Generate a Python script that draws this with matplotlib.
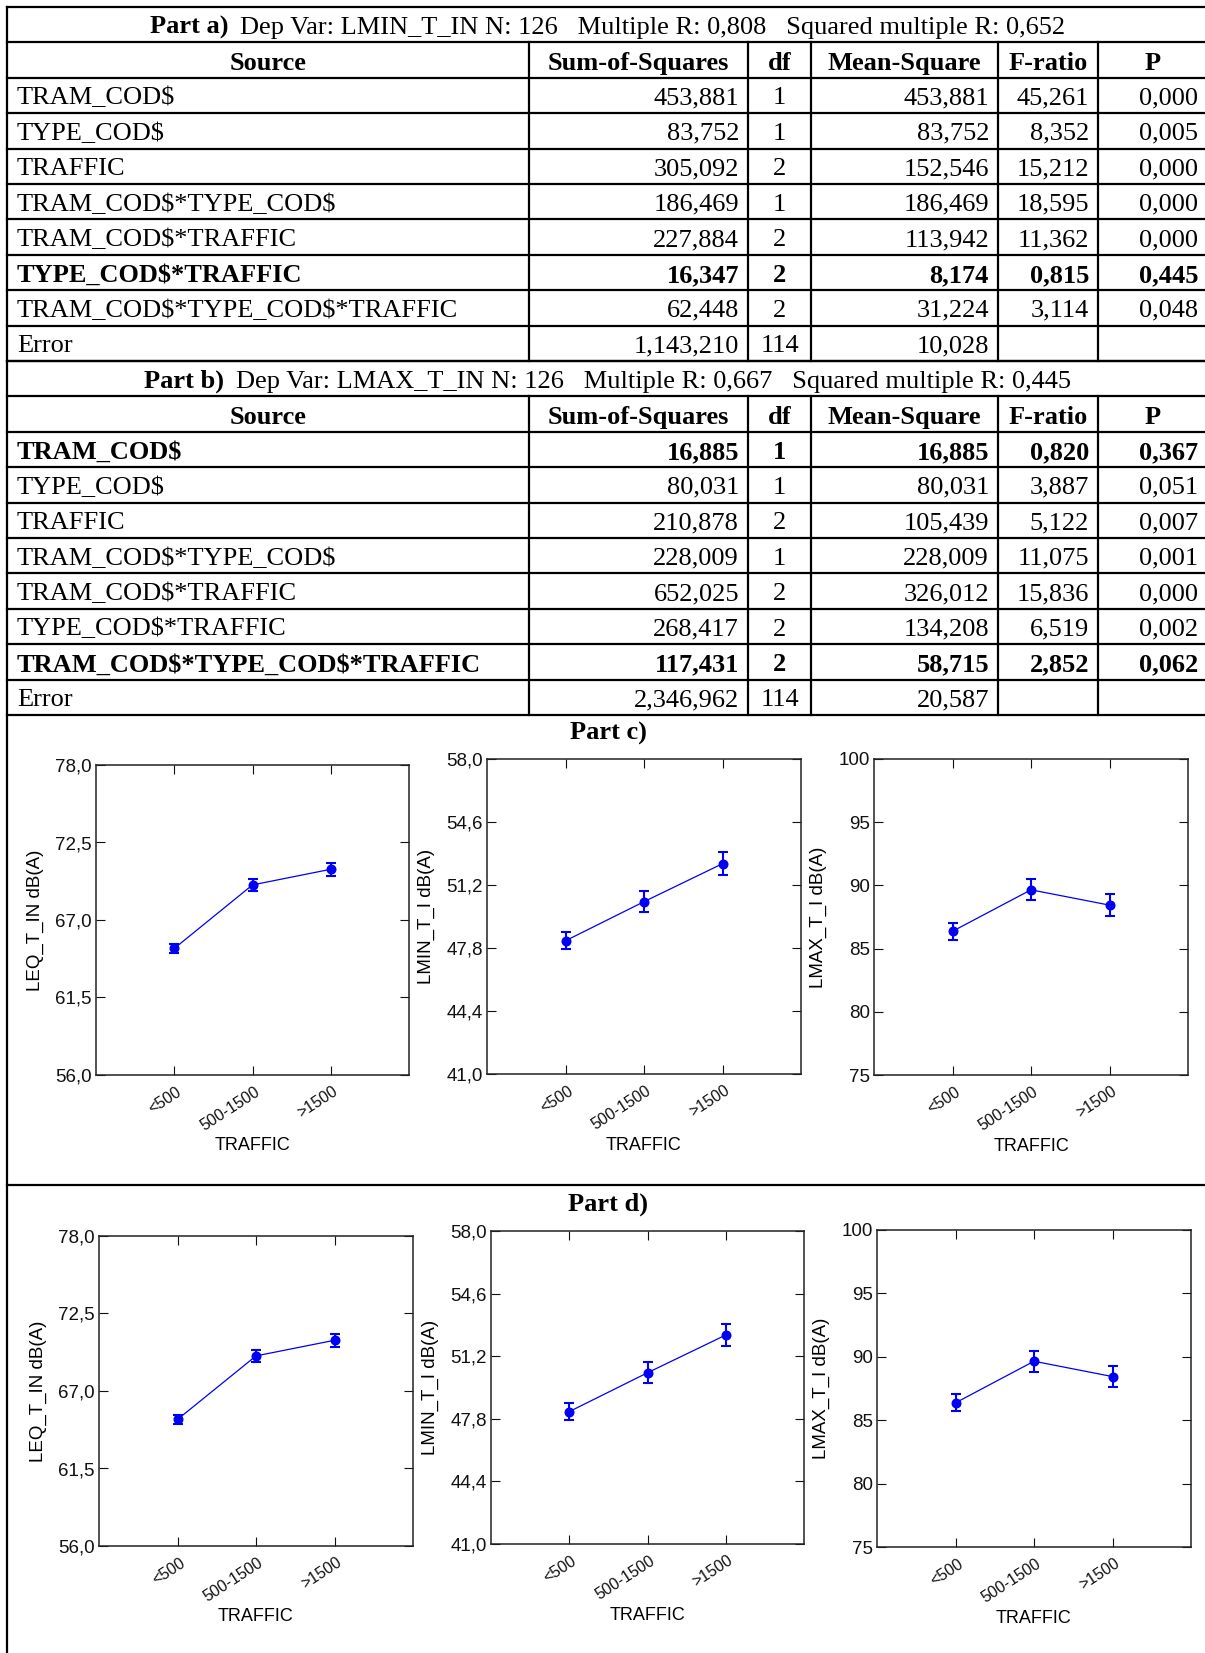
import numpy as np
import matplotlib.pyplot as plt
from matplotlib.transforms import ScaledTranslation

plt.rcParams['font.family'] = 'Liberation Sans'
plt.rcParams['text.parse_math'] = False
SERIF = 'Liberation Serif'

# ---- ANOVA tables ----
sources = ['TRAM_COD$', 'TYPE_COD$', 'TRAFFIC', 'TRAM_COD$*TYPE_COD$',
           'TRAM_COD$*TRAFFIC', 'TYPE_COD$*TRAFFIC',
           'TRAM_COD$*TYPE_COD$*TRAFFIC', 'Error']
headers = ['Source', 'Sum-of-Squares', 'df', 'Mean-Square', 'F-ratio', 'P']

a_title = ('Part a)', 'Dep Var: LMIN_T_IN N: 126   Multiple R: 0,808   Squared multiple R: 0,652')
a_ss = ['453,881', '83,752', '305,092', '186,469', '227,884', '16,347', '62,448', '1,143,210']
a_df = ['1', '1', '2', '1', '2', '2', '2', '114']
a_ms = ['453,881', '83,752', '152,546', '186,469', '113,942', '8,174', '31,224', '10,028']
a_f = ['45,261', '8,352', '15,212', '18,595', '11,362', '0,815', '3,114', '']
a_p = ['0,000', '0,005', '0,000', '0,000', '0,000', '0,445', '0,048', '']
a_bold = [False, False, False, False, False, True, False, False]

b_title = ('Part b)', 'Dep Var: LMAX_T_IN N: 126   Multiple R: 0,667   Squared multiple R: 0,445')
b_ss = ['16,885', '80,031', '210,878', '228,009', '652,025', '268,417', '117,431', '2,346,962']
b_df = ['1', '1', '2', '1', '2', '2', '2', '114']
b_ms = ['16,885', '80,031', '105,439', '228,009', '326,012', '134,208', '58,715', '20,587']
b_f = ['0,820', '3,887', '5,122', '11,075', '15,836', '6,519', '2,852', '']
b_p = ['0,367', '0,051', '0,007', '0,001', '0,000', '0,002', '0,062', '']
b_bold = [True, False, False, False, False, False, True, False]

# ---- means plots (TRAFFIC effect) ----
traffic = ['<500', '500-1500', '>1500']
leq_mean = [64.98, 69.49, 70.60]
leq_err = [0.35, 0.45, 0.46]
lmin_mean = [48.19, 50.30, 52.35]
lmin_err = [0.47, 0.58, 0.62]
lmax_mean = [86.37, 89.65, 88.44]
lmax_err = [0.67, 0.83, 0.85]

leq_ticks = [56.0, 61.5, 67.0, 72.5, 78.0]
lmin_ticks = [41.0, 44.4, 47.8, 51.2, 54.6, 58.0]
lmax_ticks = [75, 80, 85, 90, 95, 100]

W, H = 1205, 1653
fig = plt.figure(figsize=(W / 100, H / 100), dpi=100)

# page layer in pixel units, used for the table grid and frame
pg = fig.add_axes([0, 0, 1, 1])
pg.set_xlim(0, W)
pg.set_ylim(H, 0)
pg.axis('off')

x_left, x_right = 7, 1208
cols = [x_left, 529, 748, 811, 998, 1098, x_right]
row_h = 35.4
y_top = 7
fs = 19
lw_t = 1.6
dy = 3  # nudge serif text down so it sits in the middle of the row

renderer = fig.canvas.get_renderer()


def cell(x, y, s, ha, weight='normal'):
    pg.text(x, y + dy, s, family=SERIF, weight=weight, fontsize=fs, ha=ha, va='center')


def title_row(y, parts):
    t1 = pg.text(0, y + dy, parts[0], family=SERIF, weight='bold', fontsize=fs, ha='left', va='center')
    t2 = pg.text(0, y + dy, parts[1], family=SERIF, fontsize=fs, ha='left', va='center')
    w1 = t1.get_window_extent(renderer).width
    w2 = t2.get_window_extent(renderer).width
    gap = 12
    x0 = (x_left + x_right) / 2 - (w1 + gap + w2) / 2
    t1.set_x(x0)
    t2.set_x(x0 + w1 + gap)


def draw_table(row0, title, ss, df, ms, f, p, bold):
    y0 = y_top + row0 * row_h
    title_row(y0 + row_h / 2, title)
    # header
    yh = y0 + row_h * 1.5
    for j, h in enumerate(headers):
        cell((cols[j] + cols[j + 1]) / 2, yh, h, 'center', 'bold')
    for i, src in enumerate(sources):
        y = y0 + row_h * (2.5 + i)
        wt = 'bold' if bold[i] else 'normal'
        cell(cols[0] + 10, y, src, 'left', wt)
        cell(cols[2] - 9, y, ss[i], 'right', wt)
        cell((cols[2] + cols[3]) / 2, y, df[i], 'center', wt)
        cell(cols[4] - 9, y, ms[i], 'right', wt)
        cell(cols[5] - 9, y, f[i], 'right', wt)
        cell(cols[6] - 10, y, p[i], 'right', wt)
    # grid lines
    for k in range(11):
        yy = y0 + k * row_h
        pg.plot([x_left, W], [yy, yy], color='black', lw=lw_t)
    for c in cols[1:-1]:
        pg.plot([c, c], [y0 + row_h, y0 + 10 * row_h], color='black', lw=lw_t)


draw_table(0, a_title, a_ss, a_df, a_ms, a_f, a_p, a_bold)
draw_table(10, b_title, b_ss, b_df, b_ms, b_f, b_p, b_bold)

# outer frame and separator between part c and part d
pg.plot([x_left, x_left], [y_top, H], color='black', lw=lw_t)
pg.plot([x_left, W], [1185, 1185], color='black', lw=lw_t)

pg.text(608, 733, 'Part c)', family=SERIF, weight='bold', fontsize=fs, ha='center', va='center')
pg.text(608, 1204, 'Part d)', family=SERIF, weight='bold', fontsize=fs, ha='center', va='center')


def add_axes_px(left, right, top, bottom):
    return fig.add_axes([left / W, 1 - bottom / H, (right - left) / W, (bottom - top) / H])


def draw_panel(ax, means, errs, ticks, fmt, label):
    x = np.arange(1, len(traffic) + 1)
    ax.errorbar(x, means, yerr=errs, color='#0000f5', lw=0.9, marker='o', ms=6.2,
                elinewidth=1.5, capsize=3.8, capthick=1.5)
    ax.set_xlim(0, len(traffic) + 1)
    ax.set_ylim(ticks[0], ticks[-1])
    ax.set_yticks(ticks)
    ax.set_yticklabels([fmt.format(t).replace('.', ',') for t in ticks])
    ax.set_xticks(x)
    ax.set_xticklabels(traffic, rotation=33, ha='right', va='center',
                       rotation_mode='anchor')
    ax.tick_params(direction='in', length=6.5, width=0.8, top=True, right=True,
                   labelsize=13.5, pad=3, colors='#111111')
    ax.tick_params(axis='x', pad=11, labelsize=11.5)
    shift = ScaledTranslation(6 / 100, 0, fig.dpi_scale_trans)
    for lab in ax.get_xticklabels():
        lab.set_transform(lab.get_transform() + shift)
    for s in ax.spines.values():
        s.set_linewidth(1.1)
        s.set_color('#222222')
    ax.set_ylabel(label, fontsize=13.5, labelpad=8)
    ax.set_xlabel('TRAFFIC', fontsize=13, va='top')
    ax.xaxis.set_label_coords(0.5, -0.2)


# part c
draw_panel(add_axes_px(96, 409, 765, 1075), leq_mean, leq_err, leq_ticks, '{:.1f}', 'LEQ_T_IN dB(A)')
draw_panel(add_axes_px(487, 801, 759, 1074), lmin_mean, lmin_err, lmin_ticks, '{:.1f}', 'LMIN_T_I dB(A)')
draw_panel(add_axes_px(874, 1188, 759, 1075), lmax_mean, lmax_err, lmax_ticks, '{:d}', 'LMAX_T_I dB(A)')

# part d
draw_panel(add_axes_px(99, 413, 1236, 1546), leq_mean, leq_err, leq_ticks, '{:.1f}', 'LEQ_T_IN dB(A)')
draw_panel(add_axes_px(491, 804, 1231, 1544), lmin_mean, lmin_err, lmin_ticks, '{:.1f}', 'LMIN_T_I dB(A)')
draw_panel(add_axes_px(877, 1191, 1230, 1547), lmax_mean, lmax_err, lmax_ticks, '{:d}', 'LMAX_T_I dB(A)')

fig.savefig('out.png', dpi=100)
